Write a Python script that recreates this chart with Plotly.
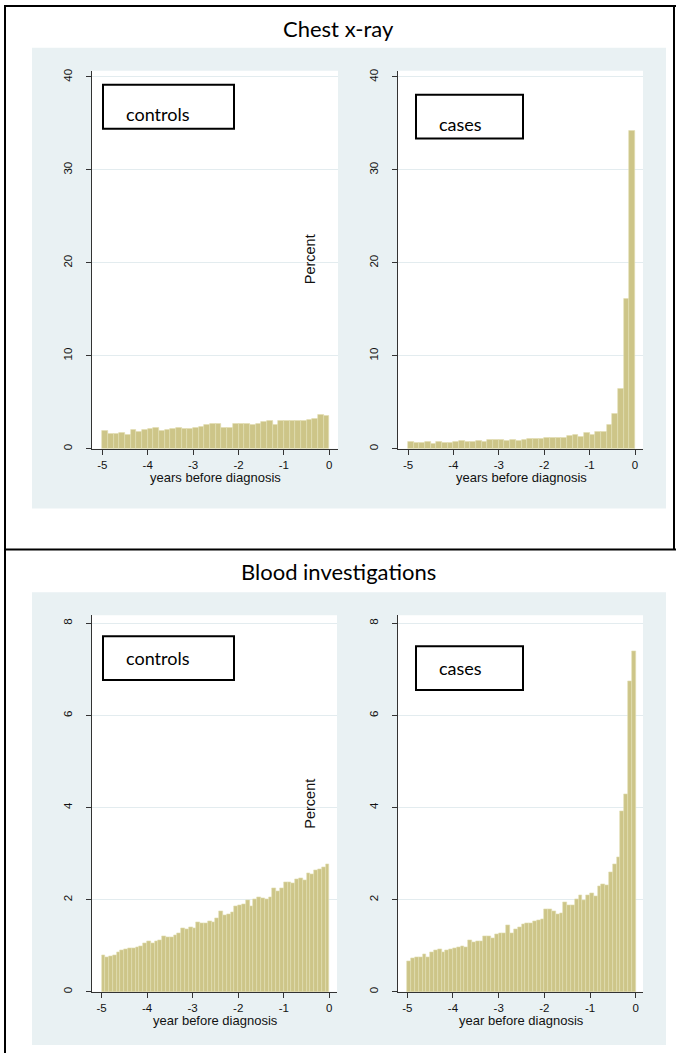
import numpy as np
import plotly.graph_objects as go

W, H = 676, 1054

# ---------------- data ----------------
year_ticks = [-5, -4, -3, -2, -1, 0]
xray_yticks = [0, 10, 20, 30, 40]
blood_yticks = [0, 2, 4, 6, 8]

xray_controls = [1.90, 1.65, 1.65, 1.72, 1.54, 2.07, 1.79, 2.00, 2.10, 2.25,
                 1.97, 2.00, 2.10, 2.25, 2.15, 2.15, 2.25, 2.33, 2.54, 2.68,
                 2.68, 2.25, 2.25, 2.72, 2.72, 2.72, 2.54, 2.72, 2.86, 3.04,
                 2.54, 2.97, 2.97, 2.97, 3.04, 3.04, 3.15, 3.26, 3.61, 3.54]

xray_cases = [0.72, 0.64, 0.64, 0.79, 0.57, 0.75, 0.61, 0.68, 0.75, 0.86,
              0.79, 0.79, 0.89, 0.72, 0.93, 1.00, 0.93, 0.82, 0.93, 0.89,
              1.00, 1.04, 1.04, 1.11, 1.14, 1.22, 1.22, 1.18, 1.36, 1.50,
              1.32, 1.75, 1.54, 1.82, 1.86, 2.60, 3.80, 6.50, 16.10, 34.20]

blood_controls = [0.79, 0.76, 0.78, 0.79, 0.87, 0.90, 0.92, 0.94, 0.94, 0.97,
                  0.99, 1.05, 1.09, 1.05, 1.10, 1.11, 1.20, 1.18, 1.18, 1.24,
                  1.28, 1.39, 1.36, 1.40, 1.39, 1.51, 1.48, 1.49, 1.53, 1.52,
                  1.60, 1.75, 1.67, 1.69, 1.72, 1.86, 1.88, 1.91, 1.99, 1.85,
                  2.02, 2.06, 2.04, 2.01, 2.05, 2.24, 2.18, 2.26, 2.37, 2.39,
                  2.35, 2.45, 2.46, 2.43, 2.57, 2.56, 2.64, 2.66, 2.71, 2.76]

blood_cases = [0.67, 0.72, 0.75, 0.76, 0.81, 0.76, 0.86, 0.90, 0.92, 0.86,
               0.91, 0.92, 0.95, 0.97, 0.98, 0.97, 1.11, 1.07, 1.10, 1.10,
               1.21, 1.20, 1.16, 1.25, 1.28, 1.28, 1.44, 1.28, 1.35, 1.41,
               1.46, 1.48, 1.50, 1.53, 1.56, 1.57, 1.80, 1.80, 1.74, 1.69,
               1.71, 1.95, 1.88, 1.87, 2.00, 2.10, 1.98, 2.09, 2.14, 2.07,
               2.30, 2.34, 2.31, 2.60, 2.77, 2.92, 3.92, 4.30, 6.75, 7.40]

section_titles = ["Chest x-ray", "Blood investigations"]
group_labels = ["controls", "cases"]
x_titles = ["years before diagnosis", "year before diagnosis"]
y_title = "Percent"
X_START, X_END = -5, 0

# ---------------- helpers ----------------
def fx(p):
    return p / W


def fy(p):
    return 1 - p / H


def xrange_from(px_left, px_right, px_m5, px_0):
    s = (px_0 - px_m5) / (X_END - X_START)
    return [X_START - (px_m5 - px_left) / s, X_END + (px_right - px_0) / s]


BAR_FILL = "rgb(205,197,136)"
BAR_LINE = "rgb(226,221,178)"
PANEL_BG = "#E9F1F3"
GRID = "#E3ECEF"
AXIS = "#333333"
TICKFONT = dict(family="Liberation Sans, Arial", size=11.5, color="#111")

# subplot geometry (pixels): left, right, top, bottom, px(-5), px(0), ymax
subplots = [
    dict(l=92, r=338, t=69, b=448, m5=102.3, z=329.3, ymax=(448 - 69) / 9.32,
         data=xray_controls, yt=xray_yticks),
    dict(l=398, r=643, t=69, b=448, m5=408.0, z=635.0, ymax=(448 - 69) / 9.32,
         data=xray_cases, yt=xray_yticks),
    dict(l=92, r=337, t=615, b=992.7, m5=101.5, z=329.3, ymax=(992.7 - 615) / 46.2,
         data=blood_controls, yt=blood_yticks),
    dict(l=398, r=643, t=615, b=992.7, m5=407.3, z=635.7, ymax=(992.7 - 615) / 46.2,
         data=blood_cases, yt=blood_yticks),
]

fig = go.Figure()
shapes = []

# panel backgrounds
for (t, b) in [(46, 508), (592, 1046)]:
    shapes.append(dict(type="rect", xref="paper", yref="paper",
                       x0=fx(32), x1=fx(666), y0=fy(b), y1=fy(t),
                       fillcolor=PANEL_BG, line=dict(width=0), layer="below"))

layout_axes = {}
for i, sp in enumerate(subplots, start=1):
    vals = sp["data"]
    n = len(vals)
    edges = np.linspace(X_START, X_END, n + 1)
    centers = (edges[:-1] + edges[1:]) / 2
    width = (X_END - X_START) / n
    xa = "x" if i == 1 else f"x{i}"
    ya = "y" if i == 1 else f"y{i}"
    fig.add_trace(go.Bar(x=centers, y=vals, width=width, xaxis=xa, yaxis=ya,
                         marker=dict(color=BAR_FILL, line=dict(color=BAR_LINE, width=0.6)),
                         showlegend=False, hoverinfo="skip"))
    # white plot region
    shapes.append(dict(type="rect", xref="paper", yref="paper",
                       x0=fx(sp["l"]), x1=fx(sp["r"]), y0=fy(sp["b"]), y1=fy(sp["t"]),
                       fillcolor="white", line=dict(width=0), layer="below"))
    xname = "xaxis" if i == 1 else f"xaxis{i}"
    yname = "yaxis" if i == 1 else f"yaxis{i}"
    layout_axes[xname] = dict(
        domain=[fx(sp["l"]), fx(sp["r"])], anchor=ya,
        range=xrange_from(sp["l"], sp["r"], sp["m5"], sp["z"]),
        tickmode="array", tickvals=year_ticks, ticktext=[str(v) for v in year_ticks],
        ticks="outside", ticklen=5, tickwidth=1, tickcolor=AXIS,
        showline=True, linecolor=AXIS, linewidth=1, showgrid=False, zeroline=False,
        tickfont=TICKFONT, fixedrange=True)
    layout_axes[yname] = dict(
        domain=[fy(sp["b"]), fy(sp["t"])], anchor=xa,
        range=[0, sp["ymax"]],
        tickmode="array", tickvals=sp["yt"], ticktext=[str(v) for v in sp["yt"]],
        tickangle=-90, ticks="outside", ticklen=5, tickwidth=1, tickcolor=AXIS,
        ticklabelstandoff=9,
        showline=True, linecolor=AXIS, linewidth=1,
        showgrid=True, gridcolor=GRID, gridwidth=1, zeroline=False,
        tickfont=TICKFONT, fixedrange=True)

# legend-like label boxes
boxes = [(103, 234, 83, 127), (416, 523, 93, 137), (103, 234, 636, 680), (416, 523, 646, 690)]
for (l, r, t, b) in boxes:
    shapes.append(dict(type="rect", xref="paper", yref="paper",
                       x0=fx(l), x1=fx(r), y0=fy(b), y1=fy(t),
                       line=dict(color="black", width=2), fillcolor="rgba(0,0,0,0)", layer="above"))

# outer frame lines
frame = [(5, 3, 5, 1054), (4, 4, 676, 4), (4, 549, 676, 549), (674, 3, 674, 549)]
for (x0, y0, x1, y1) in frame:
    shapes.append(dict(type="line", xref="paper", yref="paper",
                       x0=fx(x0), x1=fx(x1), y0=fy(y0), y1=fy(y1),
                       line=dict(color="black", width=2), layer="above"))

ann = []
TITLEFONT = dict(family="Lato, Carlito, Calibri, sans-serif", size=22, color="black")
LABFONT = dict(family="Lato, Carlito, Calibri, sans-serif", size=18, color="black")
AXFONT = dict(family="Liberation Sans, Arial", size=13, color="#111")

for txt, yy in zip(section_titles, [27, 571]):
    ann.append(dict(text=txt, x=fx(338), y=fy(yy), xref="paper", yref="paper",
                    xanchor="center", yanchor="middle", showarrow=False, font=TITLEFONT))

label_pos = [(124, 112), (437, 122), (124, 658), (437, 668)]
for k, (lx, ly) in enumerate(label_pos):
    ann.append(dict(text=group_labels[k % 2], x=fx(lx), y=fy(ly), xref="paper", yref="paper",
                    xanchor="left", yanchor="middle", showarrow=False, font=LABFONT))

for k, sp in enumerate(subplots):
    cx = (sp["m5"] + sp["z"]) / 2
    ty = sp["b"] + 28.5
    ann.append(dict(text=x_titles[k // 2], x=fx(cx), y=fy(ty), xref="paper", yref="paper",
                    xanchor="center", yanchor="middle", showarrow=False, font=AXFONT))

for yy in [258, 804]:
    ann.append(dict(text=y_title, x=fx(310), y=fy(yy), xref="paper", yref="paper",
                    xanchor="center", yanchor="middle", textangle=-90, showarrow=False,
                    font=dict(family="Liberation Sans, Arial", size=14.5, color="#111")))

fig.update_layout(
    width=W, height=H, margin=dict(l=0, r=0, t=0, b=0),
    paper_bgcolor="white", plot_bgcolor="rgba(0,0,0,0)",
    showlegend=False, bargap=0, shapes=shapes, annotations=ann,
    **layout_axes)

fig.write_html("out.html", config={"displayModeBar": False},
               post_script="document.body.style.margin='0';document.body.style.overflow='hidden';")
